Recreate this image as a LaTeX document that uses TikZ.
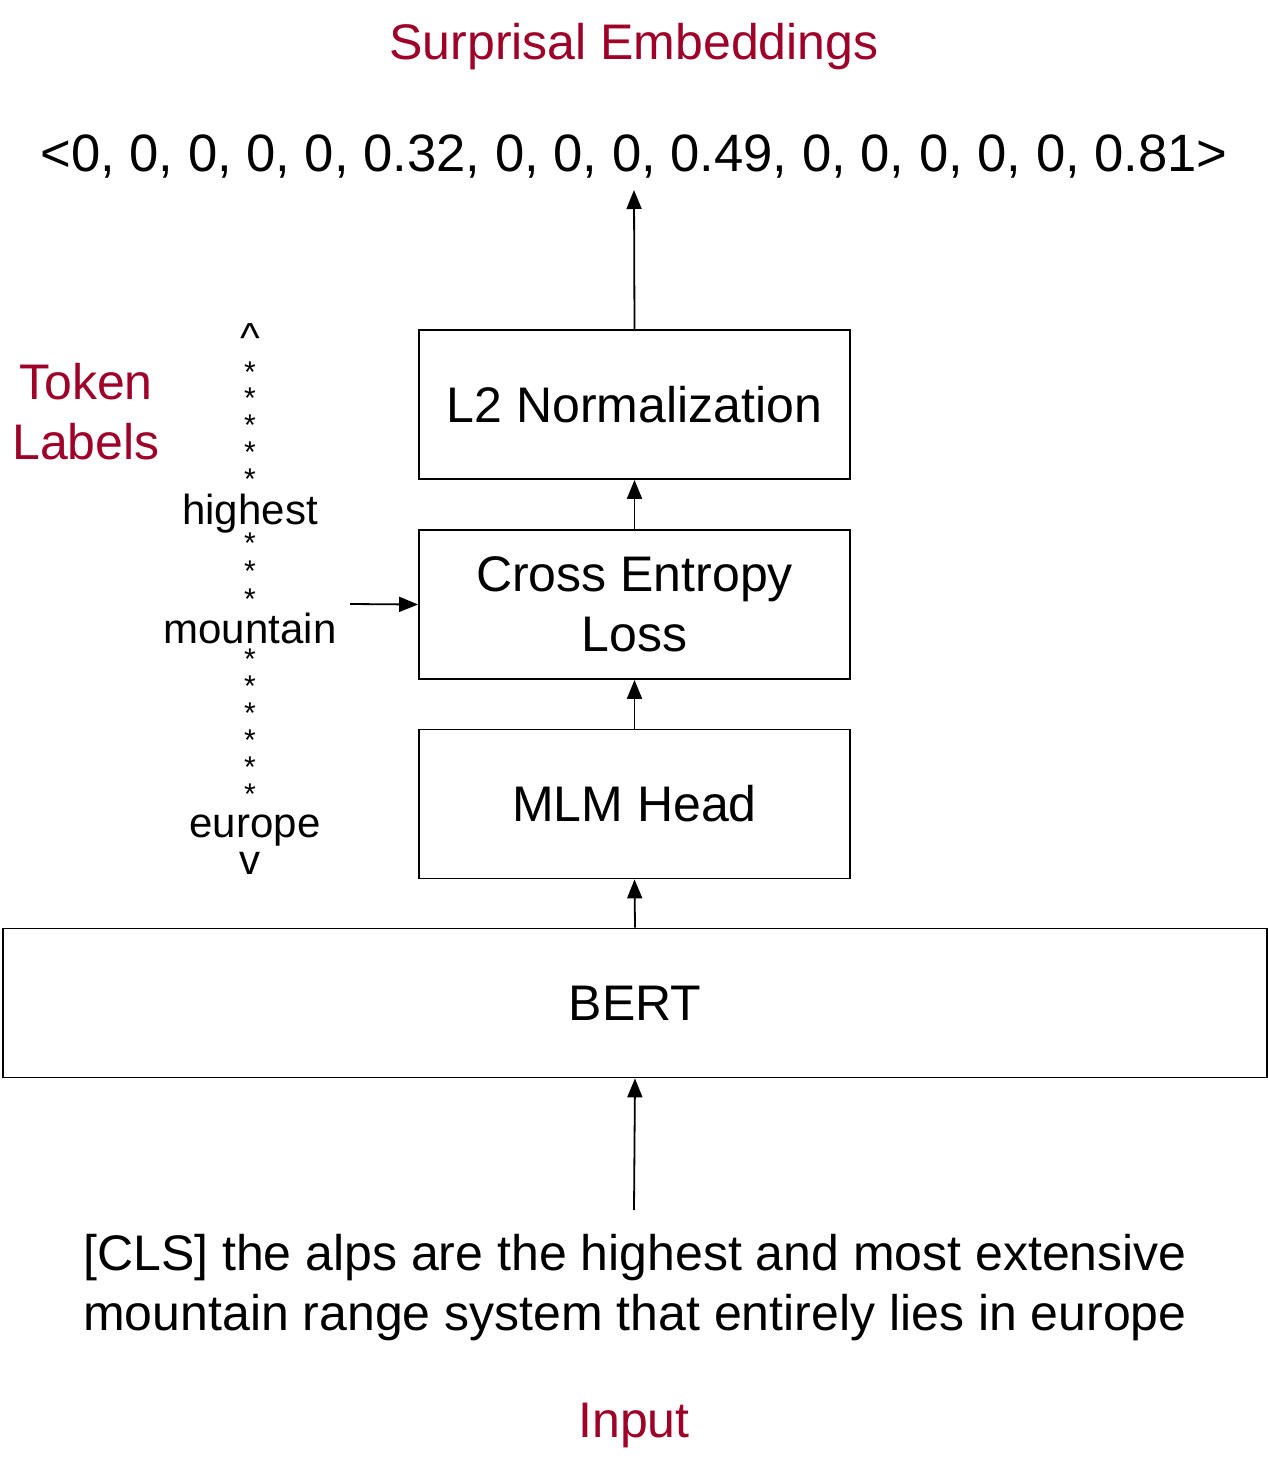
\documentclass[tikz,border=0pt]{standalone}
\usepackage{fontspec}
\setmainfont{Liberation Sans}
\usetikzlibrary{arrows.meta}
\definecolor{myred}{RGB}{158,0,40}
\begin{document}
\begin{tikzpicture}[x=0.5pt,y=-0.5pt,
  box/.style={draw=black,line width=0.9pt,minimum width=215.5pt,minimum height=74.5pt,inner sep=0pt,font=\fontsize{25}{30}\selectfont,align=center},
  big/.style={inner sep=0pt,font=\fontsize{25}{30}\selectfont,align=center},
  redt/.style={big,text=myred},
  tok/.style={inner sep=0pt,font=\fontsize{21}{25}\selectfont},
  star/.style={inner sep=0pt,font=\fontsize{15}{18}\selectfont},
  arr/.style={line width=0.9pt,-{Triangle[length=9.5pt,width=7.5pt]}}]
\useasboundingbox (0,0) rectangle (1268,1462);
\node[redt] (se) at (634,47) {Surprisal Embeddings};
\node[big,font=\fontsize{26.3}{30}\selectfont] (vec) at (634,156) {<0, 0, 0, 0, 0, 0.32, 0, 0, 0, 0.49, 0, 0, 0, 0, 0, 0.81>};
\coordinate (vecin) at (634,190);
\node[box] (l2) at (634.5,404.5) {L2 Normalization};
\node[box] (ce) at (634.5,604.5) {Cross Entropy\\Loss};
\node[box] (mlm) at (634.5,804) {MLM Head};
\node[box,minimum width=632pt] (bert) at (635,1003) {BERT};
\coordinate (inp) at (634,1210);
\node[big] (sent) at (635,1288) {[CLS] the alps are the highest and most extensive\\mountain range system that entirely lies in europe};
\node[redt] (input) at (634,1425) {Input};
\node[redt] (tl) at (86,412) {Token\\Labels};
% token label column
\node[tok] (up) at (250,338) {\^{}};
\foreach \y [count=\i] in {372,398,425,452,479}{\node[star] (sa\i) at (250,\y) {*};}
\node[tok] (hi) at (250,514) {highest};
\foreach \y [count=\i] in {543,571,599}{\node[star] (sb\i) at (250,\y) {*};}
\node[tok] (mo) at (250,628) {mountain};
\foreach \y [count=\i] in {659,686,713,740,767,794}{\node[star] (sc\i) at (250,\y) {*};}
\node[tok] (eu) at (255,831) {europe};
\node[tok] (dn) at (250,863) {v};
\coordinate (moar) at (350,604);
% arrows
\draw[arr] (l2.north) -- (vecin);
\draw[arr] (ce.north) -- (l2.south);
\draw[arr] (mlm.north) -- (ce.south);
\draw[arr] (bert.north) -- (mlm.south);
\draw[arr] (inp) -- (bert.south);
\draw[arr] (moar) -- (ce.west);
\end{tikzpicture}
\end{document}
